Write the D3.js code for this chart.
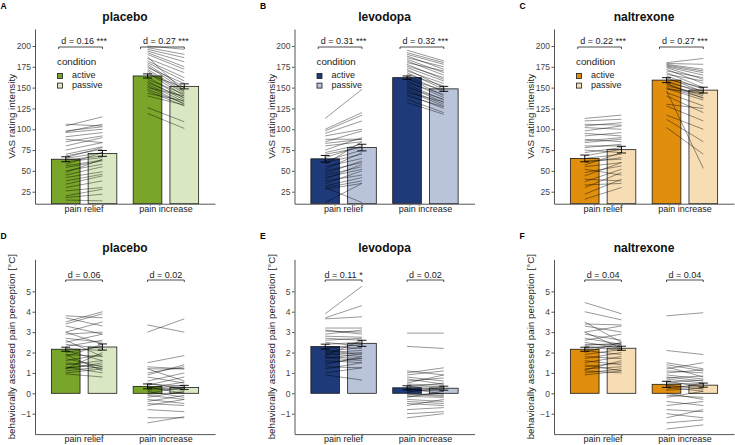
<!DOCTYPE html>
<html>
<head>
<meta charset="utf-8">
<script src="https://cdn.jsdelivr.net/npm/d3@7"></script>
<style>
body { margin: 0; background: #fff; }
svg { display: block; font-family: "Liberation Sans", Arial, sans-serif; }
</style>
</head>
<body>
<div id="viz"></div>
<script>
var categories = ["pain relief", "pain increase"];
var conditions = ["active", "passive"];
var drugs = ["placebo", "levodopa", "naltrexone"];
var letters = [["A", "B", "C"], ["D", "E", "F"]];

var vasTicks = [25, 50, 75, 100, 125, 150, 175, 200];
var behavTicks = [-1, 0, 1, 2, 3, 4, 5];

// group means / sem: [relief active, relief passive, increase active, increase passive]
var vasMeanPlacebo = [64, 71, 164, 151.5];
var vasSemPlacebo = [3, 3.5, 2.5, 3];
var vasMeanLevodopa = [64.5, 78, 162, 148.5];
var vasSemLevodopa = [4, 4, 2, 3];
var vasMeanNaltrexone = [65, 75.5, 159, 147];
var vasSemNaltrexone = [4, 4, 3, 3.5];

var behavMeanPlacebo = [2.16, 2.27, 0.34, 0.29];
var behavSemPlacebo = [0.1, 0.15, 0.12, 0.1];
var behavMeanLevodopa = [2.29, 2.45, 0.27, 0.25];
var behavSemLevodopa = [0.12, 0.15, 0.1, 0.1];
var behavMeanNaltrexone = [2.16, 2.21, 0.44, 0.4];
var behavSemNaltrexone = [0.1, 0.1, 0.15, 0.1];

// effect sizes (relief, increase)
var vasD = [[0.16, 0.27], [0.31, 0.32], [0.22, 0.27]];
var vasStars = [["***", "***"], ["***", "***"], ["***", "***"]];
var behavD = [[0.06, 0.02], [0.11, 0.02], [0.04, 0.04]];
var behavStars = [["", ""], ["*", ""], ["", ""]];

// single subjects [active, passive]
var vasReliefPlacebo = [[106,104],[104,115],[98,103],[97,106],[96,100],[91,96],[88,84],[85,92],[80,90],[75,84],[70,79],[68,76],[65,72],[63,68],[61,66],[58,72],[56,63],[54,62],[50,58],[48,64],[45,55],[42,49],[38,46],[34,44],[30,38],[26,30],[20,28],[18,22],[15,14],[66,78]];
var vasIncreasePlacebo = [[200,196],[198,190],[196,186],[194,181],[192,175],[190,172],[187,145],[185,168],[182,162],[180,158],[178,150],[176,147],[174,155],[172,145],[170,143],[168,140],[166,150],[163,137],[160,142],[158,135],[156,138],[154,133],[152,130],[150,140],[148,131],[146,128],[143,134],[140,129],[126,109],[119,101]];
var vasReliefLevodopa = [[113,148],[100,120],[98,117],[95,110],[92,100],[88,88],[85,98],[83,88],[80,85],[75,90],[72,82],[70,78],[66,80],[62,75],[60,70],[58,85],[55,65],[52,72],[50,60],[47,62],[45,55],[42,52],[40,58],[38,45],[35,50],[32,42],[30,38],[28,35],[30,12],[12,35]];
var vasIncreaseLevodopa = [[195,182],[192,180],[190,178],[188,172],[186,175],[184,168],[182,165],[180,170],[178,160],[176,162],[174,158],[172,150],[170,155],[168,148],[166,152],[164,145],[162,140],[160,147],[158,138],[156,142],[154,135],[152,132],[150,136],[148,130],[146,128],[144,133],[142,125],[140,127],[136,120],[132,118]];
var vasReliefNaltrexone = [[113,117],[110,112],[106,105],[104,108],[102,100],[98,104],[95,92],[92,96],[88,85],[86,90],[84,88],[80,80],[78,82],[75,72],[72,78],[68,76],[65,70],[62,64],[60,66],[57,72],[55,60],[52,45],[48,56],[44,60],[40,38],[37,52],[33,35],[30,48],[22,40],[16,30]];
var vasIncreaseNaltrexone = [[180,185],[179,178],[178,172],[177,170],[176,168],[175,165],[174,160],[172,155],[170,162],[168,150],[166,158],[164,148],[162,145],[160,150],[158,143],[156,146],[154,140],[152,142],[150,138],[149,135],[148,144],[146,53],[144,128],[140,120],[130,125],[128,110],[117,100],[112,85],[102,70],[155,137]];

var behavReliefPlacebo = [[3.8,3.7],[3.7,3.3],[3.5,4.0],[3.4,3.9],[3.3,2.9],[3.0,3.5],[2.9,3.0],[2.7,2.5],[2.5,2.9],[2.4,2.2],[2.3,2.6],[2.2,2.1],[2.1,1.6],[2.0,2.3],[1.9,1.8],[1.8,2.4],[1.7,1.3],[1.6,1.9],[1.5,1.2],[1.4,1.6],[1.3,1.0],[1.25,1.4],[1.2,1.5],[1.1,1.3],[1.0,1.2],[0.95,0.8],[1.2,2.0],[2.6,1.8],[1.9,1.1],[3.0,2.4]];
var behavIncreasePlacebo = [[3.35,3.0],[3.0,3.65],[1.5,1.85],[1.3,1.2],[1.2,0.6],[1.0,1.3],[0.8,0.5],[0.6,1.0],[0.5,0.2],[0.4,0.8],[0.3,0.0],[0.2,0.4],[0.1,-0.2],[0.0,0.3],[-0.1,-0.3],[-0.2,0.1],[-0.3,-0.5],[-0.4,-0.1],[-0.5,-0.6],[-0.6,-0.3],[-0.8,-0.9],[-1.2,-1.2],[-1.45,-1.15],[1.2,1.2],[0.45,0.35],[0.3,0.15],[0.15,0.25],[-0.05,0.05],[0.9,1.4],[0.25,0.55]];
var behavReliefLevodopa = [[3.9,5.25],[3.7,4.3],[3.65,3.75],[3.2,3.2],[3.1,2.9],[2.9,3.1],[2.8,2.75],[2.6,2.7],[2.4,2.5],[2.3,2.2],[2.2,2.4],[2.1,1.9],[2.0,2.1],[1.95,1.8],[1.9,2.0],[1.8,1.7],[1.75,1.6],[1.7,1.95],[1.6,1.5],[1.5,1.7],[1.4,1.8],[1.3,1.25],[1.2,1.5],[1.0,1.25],[0.9,0.65],[2.5,2.3],[1.85,2.6],[2.05,2.25],[2.7,2.6],[3.05,3.0]];
var behavIncreaseLevodopa = [[2.95,2.95],[2.3,2.2],[1.1,0.9],[1.0,1.25],[0.9,1.1],[0.8,0.6],[0.5,0.9],[0.4,0.3],[0.3,0.5],[0.2,0.1],[0.1,0.2],[0.0,-0.1],[-0.1,0.0],[-0.15,-0.2],[-0.2,0.1],[-0.3,-0.4],[-0.5,-0.6],[-0.6,-0.3],[-0.8,-0.7],[-1.0,-0.9],[-1.2,-1.0],[0.05,0.3],[0.25,-0.05],[0.35,0.15],[0.15,0.35],[-0.05,-0.15],[0.45,0.4],[0.6,0.75],[-0.4,-0.5],[0.7,0.45]];
var behavReliefNaltrexone = [[4.45,3.9],[4.0,3.6],[3.5,2.5],[3.4,3.35],[3.3,3.0],[3.0,3.3],[2.9,2.6],[2.6,2.9],[2.5,2.2],[2.4,2.4],[2.3,2.1],[2.2,2.35],[2.1,1.9],[2.0,2.5],[1.8,1.7],[1.7,2.0],[1.6,1.4],[1.5,1.8],[1.4,1.1],[1.3,1.5],[1.2,1.3],[1.1,1.0],[1.0,1.2],[0.9,1.1],[3.0,2.2],[2.35,2.45],[1.15,1.6],[2.25,2.3],[1.9,2.15],[2.7,2.4]];
var behavIncreaseNaltrexone = [[3.8,3.95],[2.1,1.9],[1.5,1.2],[1.4,1.1],[1.3,0.8],[1.1,1.0],[0.9,0.7],[0.8,0.6],[0.7,0.5],[0.6,0.3],[0.5,0.45],[0.4,0.2],[0.3,0.1],[0.0,-0.3],[-0.2,0.1],[-0.4,-0.6],[-0.6,-0.4],[-0.8,-0.9],[-1.0,-1.2],[-1.2,-0.8],[-1.45,-1.3],[-1.75,-1.55],[0.2,0.5],[1.2,1.5],[0.55,0.65],[0.35,0.3],[0.15,0.25],[-0.1,-0.2],[0.75,0.85],[1.0,1.15]];

var fills = {
    placebo: ["#79a52b", "#d9e8c2"],
    levodopa: ["#1e3a78", "#b9c3d9"],
    naltrexone: ["#e08e0b", "#f6ddb3"]
};

var vasPanels = [
    {mean: vasMeanPlacebo, sem: vasSemPlacebo, subj: [vasReliefPlacebo, vasIncreasePlacebo]},
    {mean: vasMeanLevodopa, sem: vasSemLevodopa, subj: [vasReliefLevodopa, vasIncreaseLevodopa]},
    {mean: vasMeanNaltrexone, sem: vasSemNaltrexone, subj: [vasReliefNaltrexone, vasIncreaseNaltrexone]}
];
var behavPanels = [
    {mean: behavMeanPlacebo, sem: behavSemPlacebo, subj: [behavReliefPlacebo, behavIncreasePlacebo]},
    {mean: behavMeanLevodopa, sem: behavSemLevodopa, subj: [behavReliefLevodopa, behavIncreaseLevodopa]},
    {mean: behavMeanNaltrexone, sem: behavSemNaltrexone, subj: [behavReliefNaltrexone, behavIncreaseNaltrexone]}
];

// layout of the two rows
var rows = [
    {panels: vasPanels, dval: vasD, stars: vasStars, domain: [10.6, 220.4], range: [203.7, 29], ticks: vasTicks,
     ylab: "VAS rating intensity", titleY: 21, letterY: 9, catY: 212, bracketY: 47, labelY: 44, padL: 7, legend: true},
    {panels: behavPanels, dval: behavD, stars: behavStars, domain: [-2, 6.57], range: [434.1, 259.3], ticks: behavTicks,
     ylab: "behaviorally assessed pain perception [°C]", titleY: 252, letterY: 238.5, catY: 441.5, bracketY: 280, labelY: 277.5, padL: 0, legend: false}
];

var svg = d3.select("#viz").append("svg")
    .attr("width", 735)
    .attr("height", 445);

rows.forEach(function(row, ri) {
    row.panels.forEach(function(p, pi) {
        drawPanel(row, ri, p, pi);
    });
});

function drawPanel(row, ri, p, pi) {
    var ox = pi * 259.5;
    var drug = drugs[pi];
    var g = svg.append("g").attr("transform", "translate(" + ox + ",0)");

    var x = d3.scaleBand().domain(categories).range([35, 215]).paddingInner(0.2).paddingOuter(0.2);
    var xc = d3.scaleBand().domain(conditions).range([0, x.bandwidth()]).paddingInner(0.22);
    var y = d3.scaleLinear().domain(row.domain).range(row.range);
    var base = y(Math.max(0, row.domain[0]));

    function cx(cat, cond) { return x(cat) + xc(cond) + xc.bandwidth() / 2; }

    var clipId = "clip" + ri + pi;
    g.append("clipPath").attr("id", clipId).append("rect")
        .attr("x", 35).attr("y", row.range[1])
        .attr("width", 180).attr("height", row.range[0] - row.range[1]);

    // bars
    var barData = [];
    categories.forEach(function(cat, ci) {
        conditions.forEach(function(cond, k) {
            barData.push({cat: cat, cond: cond, k: k, m: p.mean[ci * 2 + k], s: p.sem[ci * 2 + k]});
        });
    });

    g.selectAll("rect.bar").data(barData).enter().append("rect")
        .attr("class", "bar")
        .attr("x", function(d) { return x(d.cat) + xc(d.cond); })
        .attr("y", function(d) { return y(d.m); })
        .attr("width", xc.bandwidth())
        .attr("height", function(d) { return base - y(d.m); })
        .attr("fill", function(d) { return fills[drug][d.k]; })
        .attr("stroke", "#1a1a1a")
        .attr("stroke-width", 0.8);

    // subject lines
    var lines = g.append("g").attr("clip-path", "url(#" + clipId + ")");
    categories.forEach(function(cat, ci) {
        lines.selectAll("line.s" + ci).data(p.subj[ci]).enter().append("line")
            .attr("class", "s" + ci)
            .attr("x1", cx(cat, "active"))
            .attr("x2", cx(cat, "passive"))
            .attr("y1", function(d) { return y(d[0]); })
            .attr("y2", function(d) { return y(d[1]); })
            .attr("stroke", "#000")
            .attr("stroke-opacity", 0.68)
            .attr("stroke-width", 0.6);
    });

    // error bars
    var eb = g.selectAll("g.eb").data(barData).enter().append("g").attr("class", "eb")
        .attr("transform", function(d) { return "translate(" + cx(d.cat, d.cond) + ",0)"; });
    eb.append("path")
        .attr("d", function(d) {
            var t = y(d.m + d.s), b = y(d.m - d.s);
            return "M-4.5," + t + "H4.5M0," + t + "V" + b + "M-4.5," + b + "H4.5";
        })
        .attr("fill", "none")
        .attr("stroke", "#000")
        .attr("stroke-width", 0.9);

    // effect size brackets
    categories.forEach(function(cat, ci) {
        var x1 = cx(cat, "active") - row.padL, x2 = cx(cat, "passive");
        var by = row.bracketY;
        g.append("path")
            .attr("d", "M" + x1 + "," + (by + 2) + "V" + by + "H" + x2 + "V" + (by + 2))
            .attr("fill", "none")
            .attr("stroke", "#222")
            .attr("stroke-width", 0.8);
        var st = row.stars[pi][ci];
        g.append("text")
            .attr("x", (cx(cat, "active") + cx(cat, "passive")) / 2)
            .attr("y", row.labelY)
            .attr("text-anchor", "middle")
            .attr("font-size", "9px")
            .attr("fill", "#222")
            .text("d = " + row.dval[pi][ci].toFixed(2) + (st ? " " + st : ""));
    });

    // axes
    var yAxis = g.append("g").attr("transform", "translate(35,0)")
        .call(d3.axisLeft(y).tickValues(row.ticks).tickSize(2.5).tickSizeOuter(0).tickPadding(1.5));
    yAxis.attr("font-family", null).attr("font-size", null);
    yAxis.select(".domain").attr("stroke", "#555");
    yAxis.selectAll(".tick line").attr("stroke", "#555");
    yAxis.selectAll(".tick text").attr("fill", "#444").attr("font-size", "8.5px");

    var xAxis = g.append("g").attr("transform", "translate(0," + row.range[0] + ")")
        .call(d3.axisBottom(x).tickSize(0).tickSizeOuter(0));
    xAxis.attr("font-family", null).attr("font-size", null);
    xAxis.select(".domain").attr("stroke", "#555");
    xAxis.selectAll(".tick line").remove();
    xAxis.selectAll(".tick text")
        .attr("y", row.catY - row.range[0]).attr("dy", 0)
        .attr("fill", "#222").attr("font-size", "9px");

    // y label
    g.append("text")
        .attr("transform", "translate(12," + (row.range[0] + row.range[1]) / 2 + ") rotate(-90)")
        .attr("text-anchor", "middle")
        .attr("dy", "0.35em")
        .attr("font-size", "9.8px")
        .attr("fill", "#222")
        .text(row.ylab);

    // title + panel letter
    g.append("text")
        .attr("x", 125).attr("y", row.titleY)
        .attr("text-anchor", "middle")
        .attr("font-size", "12px")
        .attr("font-weight", "bold")
        .attr("fill", "#111")
        .text(drug);
    g.append("text")
        .attr("x", 0.5).attr("y", row.letterY)
        .attr("font-size", "8.5px")
        .attr("font-weight", "bold")
        .attr("fill", "#000")
        .text(letters[ri][pi]);

    if (row.legend) {
        var lg = g.append("g");
        lg.append("text").attr("x", 57).attr("y", 64.5)
            .attr("font-size", "9.8px").attr("fill", "#222").text("condition");
        conditions.forEach(function(cond, k) {
            lg.append("rect")
                .attr("x", 57.5).attr("y", 73.5 + k * 9.6)
                .attr("width", 5).attr("height", 5)
                .attr("fill", fills[drug][k])
                .attr("stroke", "#1a1a1a").attr("stroke-width", 0.8);
            lg.append("text").attr("x", 72).attr("y", 78.3 + k * 9.6)
                .attr("font-size", "9px").attr("fill", "#222").text(cond);
        });
    }
}
</script>
</body>
</html>
